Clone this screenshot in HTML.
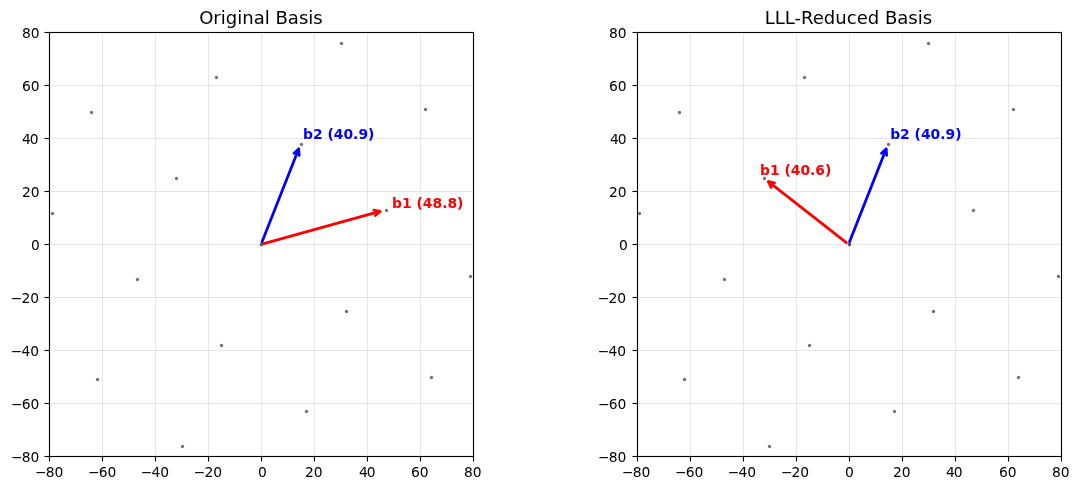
<!DOCTYPE html>
<html lang="en"><head><meta charset="utf-8"><title>LLL basis reduction</title>
<style>
html,body{margin:0;padding:0;background:#fff;}
body{width:1079px;height:490px;overflow:hidden;}
svg{display:block;font-family:"DejaVu Sans","Liberation Sans",sans-serif;}
</style></head><body>
<svg width="1079" height="490" viewBox="0 0 1079 490">
<rect width="1079" height="490" fill="#fff"/>
<g fill="#000" fill-opacity="0.55">
<circle cx="52.5" cy="213.5" r="1.68"/>
<circle cx="91.5" cy="112.5" r="1.68"/>
<circle cx="97.5" cy="379.5" r="1.68"/>
<circle cx="137.5" cy="279.5" r="1.68"/>
<circle cx="176.5" cy="178.5" r="1.68"/>
<circle cx="216.5" cy="77.5" r="1.68"/>
<circle cx="182.5" cy="446.5" r="1.68"/>
<circle cx="221.5" cy="345.5" r="1.68"/>
<circle cx="261.5" cy="244.5" r="1.68"/>
<circle cx="301.5" cy="144.5" r="1.68"/>
<circle cx="341.5" cy="43.5" r="1.68"/>
<circle cx="306.5" cy="411.5" r="1.68"/>
<circle cx="346.5" cy="311.5" r="1.68"/>
<circle cx="386.5" cy="210.5" r="1.68"/>
<circle cx="425.5" cy="109.5" r="1.68"/>
<circle cx="431.5" cy="377.5" r="1.68"/>
<circle cx="470.5" cy="276.5" r="1.68"/>
</g>
<g stroke="#b0b0b0" stroke-opacity="0.3" stroke-width="1.11">
<line x1="49.5" y1="32.5" x2="49.5" y2="456.5"/>
<line x1="49.5" y1="456.5" x2="473.5" y2="456.5"/>
<line x1="102.5" y1="32.5" x2="102.5" y2="456.5"/>
<line x1="49.5" y1="403.5" x2="473.5" y2="403.5"/>
<line x1="155.5" y1="32.5" x2="155.5" y2="456.5"/>
<line x1="49.5" y1="350.5" x2="473.5" y2="350.5"/>
<line x1="208.5" y1="32.5" x2="208.5" y2="456.5"/>
<line x1="49.5" y1="297.5" x2="473.5" y2="297.5"/>
<line x1="261.5" y1="32.5" x2="261.5" y2="456.5"/>
<line x1="49.5" y1="244.5" x2="473.5" y2="244.5"/>
<line x1="314.5" y1="32.5" x2="314.5" y2="456.5"/>
<line x1="49.5" y1="191.5" x2="473.5" y2="191.5"/>
<line x1="367.5" y1="32.5" x2="367.5" y2="456.5"/>
<line x1="49.5" y1="138.5" x2="473.5" y2="138.5"/>
<line x1="420.5" y1="32.5" x2="420.5" y2="456.5"/>
<line x1="49.5" y1="85.5" x2="473.5" y2="85.5"/>
<line x1="473.5" y1="32.5" x2="473.5" y2="456.5"/>
<line x1="49.5" y1="32.5" x2="473.5" y2="32.5"/>
</g>
<circle cx="261.5" cy="244.5" r="1.68" fill="#000" fill-opacity="0.38"/>
<g stroke="#000" stroke-width="1.11">
<line x1="49.5" y1="456.5" x2="49.5" y2="461.50"/>
<line x1="49.5" y1="456.5" x2="44.50" y2="456.5"/>
<line x1="102.5" y1="456.5" x2="102.5" y2="461.50"/>
<line x1="49.5" y1="403.5" x2="44.50" y2="403.5"/>
<line x1="155.5" y1="456.5" x2="155.5" y2="461.50"/>
<line x1="49.5" y1="350.5" x2="44.50" y2="350.5"/>
<line x1="208.5" y1="456.5" x2="208.5" y2="461.50"/>
<line x1="49.5" y1="297.5" x2="44.50" y2="297.5"/>
<line x1="261.5" y1="456.5" x2="261.5" y2="461.50"/>
<line x1="49.5" y1="244.5" x2="44.50" y2="244.5"/>
<line x1="314.5" y1="456.5" x2="314.5" y2="461.50"/>
<line x1="49.5" y1="191.5" x2="44.50" y2="191.5"/>
<line x1="367.5" y1="456.5" x2="367.5" y2="461.50"/>
<line x1="49.5" y1="138.5" x2="44.50" y2="138.5"/>
<line x1="420.5" y1="456.5" x2="420.5" y2="461.50"/>
<line x1="49.5" y1="85.5" x2="44.50" y2="85.5"/>
<line x1="473.5" y1="456.5" x2="473.5" y2="461.50"/>
<line x1="49.5" y1="32.5" x2="44.50" y2="32.5"/>
</g>
<rect x="49.5" y="32.5" width="424.0" height="424.0" fill="none" stroke="#000" stroke-width="1.11"/>
<g font-size="13.889" fill="#000">
<text x="49.22" y="477.30" text-anchor="middle" dx="0 -1 0">−80</text>
<text x="39.38" y="462.30" text-anchor="end" dx="0 -1 0">−80</text>
<text x="102.22" y="477.30" text-anchor="middle" dx="0 -1 0">−60</text>
<text x="39.38" y="409.31" text-anchor="end" dx="0 -1 0">−60</text>
<text x="154.96" y="477.30" text-anchor="middle" dx="0 -1 0">−40</text>
<text x="39.13" y="356.32" text-anchor="end" dx="0 -1 0">−40</text>
<text x="207.95" y="477.30" text-anchor="middle" dx="0 -1 0">−20</text>
<text x="39.13" y="303.32" text-anchor="end" dx="0 -1 0">−20</text>
<text x="262.32" y="477.30" text-anchor="middle">0</text>
<text x="39.88" y="250.33" text-anchor="end">0</text>
<text x="313.81" y="477.30" text-anchor="middle">20</text>
<text x="39.63" y="197.34" text-anchor="end">20</text>
<text x="367.31" y="477.30" text-anchor="middle" dx="0 -1">40</text>
<text x="38.63" y="144.35" text-anchor="end" dx="0 -1">40</text>
<text x="419.80" y="477.30" text-anchor="middle">60</text>
<text x="39.63" y="91.35" text-anchor="end">60</text>
<text x="472.79" y="477.30" text-anchor="middle">80</text>
<text x="39.63" y="38.36" text-anchor="end">80</text>
</g>
<g fill="none" stroke="#ff0000" stroke-width="2.78" stroke-linecap="round" stroke-linejoin="round">
<path d="M263.75 243.56L379.94 211.43"/>
<path d="M373.84 210.23L379.94 211.43L375.32 215.59"/>
</g>
<text x="392.08" y="208.14" font-size="13.889" font-weight="700" fill="#ff0000">b1 (48.8)</text>
<g fill="none" stroke="#0000ff" stroke-width="2.78" stroke-linecap="round" stroke-linejoin="round">
<path d="M262.09 241.72L298.66 149.09"/>
<path d="M294.03 153.24L298.66 149.09L299.20 155.27"/>
</g>
<text x="303.05" y="138.58" font-size="13.889" font-weight="700" fill="#0000ff">b2 (40.9)</text>
<text x="260.95" y="24.00" font-size="18.056" text-anchor="middle" fill="#000">Original Basis</text>
<g fill="#000" fill-opacity="0.55">
<circle cx="639.5" cy="213.5" r="1.68"/>
<circle cx="679.5" cy="112.5" r="1.68"/>
<circle cx="684.5" cy="379.5" r="1.68"/>
<circle cx="724.5" cy="279.5" r="1.68"/>
<circle cx="764.5" cy="178.5" r="1.68"/>
<circle cx="804.5" cy="77.5" r="1.68"/>
<circle cx="769.5" cy="446.5" r="1.68"/>
<circle cx="809.5" cy="345.5" r="1.68"/>
<circle cx="849.5" cy="244.5" r="1.68"/>
<circle cx="888.5" cy="144.5" r="1.68"/>
<circle cx="928.5" cy="43.5" r="1.68"/>
<circle cx="894.5" cy="411.5" r="1.68"/>
<circle cx="933.5" cy="311.5" r="1.68"/>
<circle cx="973.5" cy="210.5" r="1.68"/>
<circle cx="1013.5" cy="109.5" r="1.68"/>
<circle cx="1018.5" cy="377.5" r="1.68"/>
<circle cx="1058.5" cy="276.5" r="1.68"/>
</g>
<g stroke="#b0b0b0" stroke-opacity="0.3" stroke-width="1.11">
<line x1="637.5" y1="32.5" x2="637.5" y2="456.5"/>
<line x1="637.5" y1="456.5" x2="1061.5" y2="456.5"/>
<line x1="690.5" y1="32.5" x2="690.5" y2="456.5"/>
<line x1="637.5" y1="403.5" x2="1061.5" y2="403.5"/>
<line x1="743.5" y1="32.5" x2="743.5" y2="456.5"/>
<line x1="637.5" y1="350.5" x2="1061.5" y2="350.5"/>
<line x1="796.5" y1="32.5" x2="796.5" y2="456.5"/>
<line x1="637.5" y1="297.5" x2="1061.5" y2="297.5"/>
<line x1="849.5" y1="32.5" x2="849.5" y2="456.5"/>
<line x1="637.5" y1="244.5" x2="1061.5" y2="244.5"/>
<line x1="902.5" y1="32.5" x2="902.5" y2="456.5"/>
<line x1="637.5" y1="191.5" x2="1061.5" y2="191.5"/>
<line x1="955.5" y1="32.5" x2="955.5" y2="456.5"/>
<line x1="637.5" y1="138.5" x2="1061.5" y2="138.5"/>
<line x1="1008.5" y1="32.5" x2="1008.5" y2="456.5"/>
<line x1="637.5" y1="85.5" x2="1061.5" y2="85.5"/>
<line x1="1061.5" y1="32.5" x2="1061.5" y2="456.5"/>
<line x1="637.5" y1="32.5" x2="1061.5" y2="32.5"/>
</g>
<circle cx="849.5" cy="244.5" r="1.68" fill="#000" fill-opacity="0.38"/>
<g stroke="#000" stroke-width="1.11">
<line x1="637.5" y1="456.5" x2="637.5" y2="461.50"/>
<line x1="637.5" y1="456.5" x2="632.50" y2="456.5"/>
<line x1="690.5" y1="456.5" x2="690.5" y2="461.50"/>
<line x1="637.5" y1="403.5" x2="632.50" y2="403.5"/>
<line x1="743.5" y1="456.5" x2="743.5" y2="461.50"/>
<line x1="637.5" y1="350.5" x2="632.50" y2="350.5"/>
<line x1="796.5" y1="456.5" x2="796.5" y2="461.50"/>
<line x1="637.5" y1="297.5" x2="632.50" y2="297.5"/>
<line x1="849.5" y1="456.5" x2="849.5" y2="461.50"/>
<line x1="637.5" y1="244.5" x2="632.50" y2="244.5"/>
<line x1="902.5" y1="456.5" x2="902.5" y2="461.50"/>
<line x1="637.5" y1="191.5" x2="632.50" y2="191.5"/>
<line x1="955.5" y1="456.5" x2="955.5" y2="461.50"/>
<line x1="637.5" y1="138.5" x2="632.50" y2="138.5"/>
<line x1="1008.5" y1="456.5" x2="1008.5" y2="461.50"/>
<line x1="637.5" y1="85.5" x2="632.50" y2="85.5"/>
<line x1="1061.5" y1="456.5" x2="1061.5" y2="461.50"/>
<line x1="637.5" y1="32.5" x2="632.50" y2="32.5"/>
</g>
<rect x="637.5" y="32.5" width="424.0" height="424.0" fill="none" stroke="#000" stroke-width="1.11"/>
<g font-size="13.889" fill="#000">
<text x="636.20" y="477.30" text-anchor="middle" dx="0 -1 0">−80</text>
<text x="626.35" y="462.30" text-anchor="end" dx="0 -1 0">−80</text>
<text x="689.19" y="477.30" text-anchor="middle" dx="0 -1 0">−60</text>
<text x="626.35" y="409.31" text-anchor="end" dx="0 -1 0">−60</text>
<text x="741.93" y="477.30" text-anchor="middle" dx="0 -1 0">−40</text>
<text x="626.10" y="356.32" text-anchor="end" dx="0 -1 0">−40</text>
<text x="795.05" y="477.30" text-anchor="middle" dx="0 -1 0">−20</text>
<text x="626.10" y="303.32" text-anchor="end" dx="0 -1 0">−20</text>
<text x="849.30" y="477.30" text-anchor="middle">0</text>
<text x="627.85" y="250.33" text-anchor="end">0</text>
<text x="901.79" y="477.30" text-anchor="middle">20</text>
<text x="626.60" y="197.34" text-anchor="end">20</text>
<text x="954.28" y="477.30" text-anchor="middle" dx="0 -1">40</text>
<text x="626.60" y="144.35" text-anchor="end" dx="0 -1">40</text>
<text x="1007.78" y="477.30" text-anchor="middle">60</text>
<text x="626.60" y="91.35" text-anchor="end">60</text>
<text x="1060.77" y="477.30" text-anchor="middle">80</text>
<text x="626.60" y="38.36" text-anchor="end">80</text>
</g>
<g fill="none" stroke="#ff0000" stroke-width="2.78" stroke-linecap="round" stroke-linejoin="round">
<path d="M846.36 242.59L768.40 181.69"/>
<path d="M771.07 187.30L768.40 181.69L774.49 182.92"/>
</g>
<text x="760.02" y="174.75" font-size="13.889" font-weight="700" fill="#ff0000">b1 (40.6)</text>
<g fill="none" stroke="#0000ff" stroke-width="2.78" stroke-linecap="round" stroke-linejoin="round">
<path d="M849.57 241.72L886.13 149.09"/>
<path d="M881.51 153.24L886.13 149.09L886.68 155.27"/>
</g>
<text x="890.15" y="138.58" font-size="13.889" font-weight="700" fill="#0000ff">b2 (40.9)</text>
<text x="848.42" y="24.00" font-size="18.056" text-anchor="middle" fill="#000">LLL-Reduced Basis</text>
</svg>
</body></html>
